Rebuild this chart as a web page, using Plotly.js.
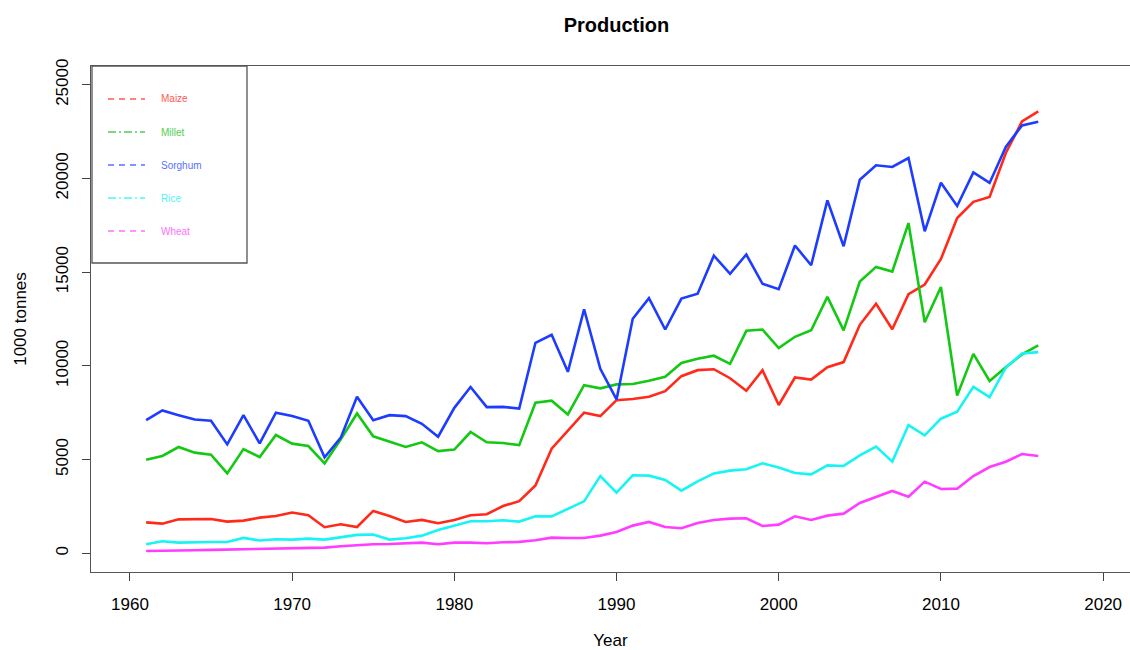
<!DOCTYPE html>
<html>
<head>
<meta charset="utf-8">
<script src="https://cdn.plot.ly/plotly-3.0.1.min.js"></script>
<style>html,body{margin:0;padding:0;background:#fff;}#chart{width:1130px;height:650px;}</style>
</head>
<body>
<div id="chart"></div>
<script>
const years = [1961,1962,1963,1964,1965,1966,1967,1968,1969,1970,
  1971,1972,1973,1974,1975,1976,1977,1978,1979,1980,
  1981,1982,1983,1984,1985,1986,1987,1988,1989,1990,
  1991,1992,1993,1994,1995,1996,1997,1998,1999,2000,
  2001,2002,2003,2004,2005,2006,2007,2008,2009,2010,
  2011,2012,2013,2014,2015,2016];

const maize = [1650,1580,1810,1810,1830,1690,1740,1900,1990,2170,
  2030,1390,1550,1400,2260,1990,1670,1780,1600,1780,
  2030,2080,2520,2780,3620,5580,6520,7500,7320,8170,
  8230,8350,8650,9450,9770,9820,9340,8670,9770,7910,
  9380,9270,9930,10200,12190,13310,11950,13820,14340,15700,
  17890,18750,19010,21360,23040,23580];

const millet = [4990,5190,5670,5370,5260,4260,5560,5130,6310,5850,
  5720,4790,6080,7460,6240,5950,5670,5920,5450,5530,
  6470,5920,5880,5770,8030,8140,7410,8970,8800,9010,
  9030,9200,9420,10150,10380,10540,10110,11870,11940,10950,
  11550,11900,13680,11890,14500,15280,15030,17620,12330,14210,
  8420,10640,9190,9930,10610,11090];

const sorghum = [7100,7620,7370,7140,7070,5810,7370,5860,7500,7320,
  7070,5120,6170,8350,7100,7370,7320,6910,6220,7760,
  8870,7800,7810,7720,11230,11660,9680,13020,9840,8210,
  12510,13610,11940,13590,13850,15880,14910,15940,14380,14090,
  16420,15370,18830,16380,19930,20700,20610,21090,17180,19770,
  18530,20320,19760,21680,22830,23030];

const rice = [480,640,570,600,600,600,820,680,750,730,
  780,730,835,980,1000,730,800,940,1240,1460,
  1710,1710,1760,1690,1970,1970,2350,2770,4120,3230,
  4160,4140,3910,3340,3840,4260,4410,4480,4800,4580,
  4280,4210,4690,4660,5220,5690,4890,6840,6290,7180,
  7550,8880,8330,9900,10660,10730];

const wheat = [124,124,142,160,178,195,213,231,266,266,
  302,300,373,444,480,497,533,569,480,569,
  569,533,586,610,693,835,818,818,942,1137,
  1475,1670,1404,1333,1620,1777,1848,1865,1457,1528,
  1972,1777,2007,2114,2683,3002,3322,3020,3820,3429,
  3447,4122,4602,4886,5294,5188];

const seriesNames = ["Maize","Millet","Sorghum","Rice","Wheat"];
const seriesValues = [maize, millet, sorghum, rice, wheat];
const seriesColors = ["#FF2A1A","#14C814","#1E3CFF","#18F4F4","#FF3CFF"];
const legendColors = ["#FF5A50","#50D050","#5A70FF","#50F4F4","#FF70FF"];
const legendDash = ["6px,5px","8px,3px,2px,3px","6px,5px","8px,3px,2px,3px","6px,5px"];

const xTicks = [1960,1970,1980,1990,2000,2010,2020];
const yTicks = [0,5000,10000,15000,20000,25000];

const FONT = "Liberation Sans, Arial, Helvetica, sans-serif";

// plot box geometry (pixels)
const W = 1130, H = 650;
const mL = 91, mR = 0, mT = 66, mB = 78;
const pw = W - mL - mR, ph = H - mT - mB;
const px2x = p => (p - mL) / pw;
const py2y = p => (H - mB - p) / ph;

const traces = seriesNames.map((n, i) => ({
  type: "scatter", mode: "lines", name: n,
  x: years, y: seriesValues[i],
  line: {color: seriesColors[i], width: 2.6},
  showlegend: false, hoverinfo: "x+y+name"
}));

// legend drawn as a box with line samples and text
const shapes = [{
  type: "rect", xref: "paper", yref: "paper",
  x0: px2x(92), x1: px2x(247), y0: py2y(263), y1: py2y(66),
  line: {color: "#555", width: 1.3}, fillcolor: "rgba(255,255,255,0)"
}];
const annotations = [];
seriesNames.forEach((n, i) => {
  const yy = 99 + i * 33;
  shapes.push({
    type: "line", xref: "paper", yref: "paper",
    x0: px2x(108), x1: px2x(145), y0: py2y(yy), y1: py2y(yy),
    line: {color: legendColors[i], width: 1.3, dash: legendDash[i]}
  });
  annotations.push({
    xref: "paper", yref: "paper", x: px2x(159), y: py2y(yy),
    xanchor: "left", yanchor: "middle", showarrow: false,
    text: n, font: {family: FONT, size: 10, color: legendColors[i]}
  });
});

const layout = {
  width: W, height: H,
  margin: {l: mL, r: mR, t: mT, b: mB, pad: 0},
  paper_bgcolor: "#fff", plot_bgcolor: "#fff",
  showlegend: false,
  font: {family: FONT, size: 17, color: "#000"},
  title: {
    text: "<b>Production</b>", xref: "paper", x: px2x(616.5), xanchor: "center",
    yref: "container", y: 1 - 25 / H, yanchor: "middle",
    font: {family: FONT, size: 20, color: "#000"}
  },
  xaxis: {
    range: [1957.6, 1957.6 + pw / 16.22],
    tickmode: "array", tickvals: xTicks, ticktext: xTicks.map(String),
    ticks: "outside", ticklen: 8, tickwidth: 1.3, tickcolor: "#444",
    ticklabelstandoff: 8,
    showline: true, mirror: true, linecolor: "#555", linewidth: 1.3,
    showgrid: false, zeroline: false,
    tickfont: {family: FONT, size: 17, color: "#000"},
    title: {text: "Year", standoff: 31, font: {family: FONT, size: 17, color: "#000"}}
  },
  yaxis: {
    range: [-1000, 26000],
    tickmode: "array", tickvals: yTicks, ticktext: yTicks.map(String),
    tickangle: -90,
    ticks: "outside", ticklen: 8, tickwidth: 1.3, tickcolor: "#444",
    ticklabelstandoff: 7,
    showline: true, mirror: false, linecolor: "#555", linewidth: 1.3,
    showgrid: false, zeroline: false,
    tickfont: {family: FONT, size: 17, color: "#000"},
    title: {text: "1000 tonnes", standoff: 22, font: {family: FONT, size: 17, color: "#000"}}
  },
  shapes: shapes,
  annotations: annotations
};

Plotly.newPlot("chart", traces, layout, {displayModeBar: false, responsive: false});
</script>
</body>
</html>
